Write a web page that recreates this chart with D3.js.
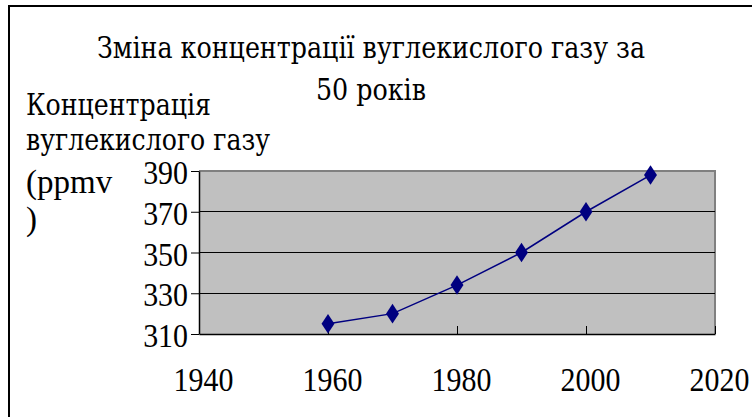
<!DOCTYPE html>
<html><head><meta charset="utf-8">
<script src="https://cdn.jsdelivr.net/npm/d3@7"></script>
<style>html,body{margin:0;padding:0;background:#fff;overflow:hidden}svg{display:block}</style>
</head><body>
<svg id="c" width="752" height="417"></svg>
<script>
const years = [1960, 1970, 1980, 1990, 2000, 2010];
const co2 = [315, 320, 334, 350, 370, 388];
const xTicks = [1940, 1960, 1980, 2000, 2020];
const yTicks = [310, 330, 350, 370, 390];
const titleLines = ["Зміна концентрації вуглекислого газу за", "50 років"];
const yLabelLines = ["Концентрація", "вуглекислого газу", "(ppmv", ")"];

const svg = d3.select("#c");
const font = "'Liberation Serif','Times New Roman',serif";
const cyr = "'DejaVu Serif Condensed','DejaVu Serif','Liberation Serif',serif";
const L = 199, R = 715, T = 171, B = 334;
const x = d3.scaleLinear().domain([1940, 2020]).range([L, R]);
const y = d3.scaleLinear().domain([310, 390]).range([B, T]);

// outer frame
svg.append("rect").attr("x", 9).attr("y", 6).attr("width", 800).attr("height", 500)
  .attr("fill", "#fff").attr("stroke", "#000").attr("stroke-width", 2);

// plot area
svg.append("rect").attr("x", L).attr("y", T).attr("width", R - L).attr("height", B - T)
  .attr("fill", "#c0c0c0");
svg.append("path").attr("d", `M${L},${T}H${R}V${B}`).attr("fill", "none")
  .attr("stroke", "#808080").attr("stroke-width", 2);

// gridlines
svg.append("g").selectAll("line").data(yTicks.filter(v => v > 310 && v < 390)).join("line")
  .attr("x1", L).attr("x2", R).attr("y1", d => y(d)).attr("y2", d => y(d))
  .attr("stroke", "#000").attr("stroke-width", 1).attr("shape-rendering", "crispEdges");

// y axis
const ya = svg.append("g").attr("transform", `translate(${L},0)`)
  .call(d3.axisLeft(y).tickValues(yTicks).tickSize(8).tickSizeOuter(0).tickFormat(d3.format("d")));
ya.select(".domain").attr("stroke", "#000").attr("stroke-width", 1.5);
ya.selectAll(".tick line").attr("stroke", "#000");
ya.selectAll(".tick text").attr("font-family", font).attr("font-size", 34).attr("fill", "#000")
  .attr("x", 0).attr("dy", "0.34em").attr("transform", "translate(-11,1) scale(0.88,1)");

// x axis
const xa = svg.append("g").attr("transform", `translate(0,${B})`)
  .call(d3.axisBottom(x).tickValues(xTicks).tickSize(-8).tickSizeOuter(0).tickFormat(d3.format("d")));
xa.select(".domain").attr("stroke", "#000").attr("stroke-width", 1.5);
xa.selectAll(".tick line").attr("stroke", "#000");
xa.selectAll(".tick text").attr("font-family", font).attr("font-size", 34).attr("fill", "#000")
  .attr("y", 0).attr("dy", 0).attr("transform", "translate(4,57) scale(0.88,1)");

// series line
const line = d3.line().x((d, i) => x(years[i])).y(d => y(d));
svg.append("path").datum(co2).attr("d", line).attr("fill", "none")
  .attr("stroke", "#000080").attr("stroke-width", 1.5);
svg.append("g").selectAll("path").data(co2).join("path")
  .attr("d", d3.symbol(d3.symbolDiamond, 110))
  .attr("transform", (d, i) => `translate(${x(years[i])},${y(d)}) scale(1.15,1)`)
  .attr("fill", "#000080");

// title
const titleW = [548, 110];
svg.append("g").selectAll("text").data(titleLines).join("text")
  .attr("x", 371).attr("y", (d, i) => 58 + i * 42)
  .attr("text-anchor", "middle").attr("font-family", cyr).attr("font-size", 29)
  .attr("textLength", (d, i) => titleW[i]).attr("lengthAdjust", "spacingAndGlyphs")
  .text(d => d);

// y label
const ylW = [185, 244, null, null];
svg.append("g").selectAll("text").data(yLabelLines).join("text")
  .attr("x", 26).attr("y", (d, i) => [115, 150, 193, 230][i])
  .attr("font-family", (d, i) => i < 2 ? cyr : font).attr("font-size", (d, i) => i < 2 ? 29 : 33)
  .each(function(d, i) { if (ylW[i]) d3.select(this).attr("textLength", ylW[i]).attr("lengthAdjust", "spacingAndGlyphs"); })
  .text(d => d);
</script>
</body></html>
